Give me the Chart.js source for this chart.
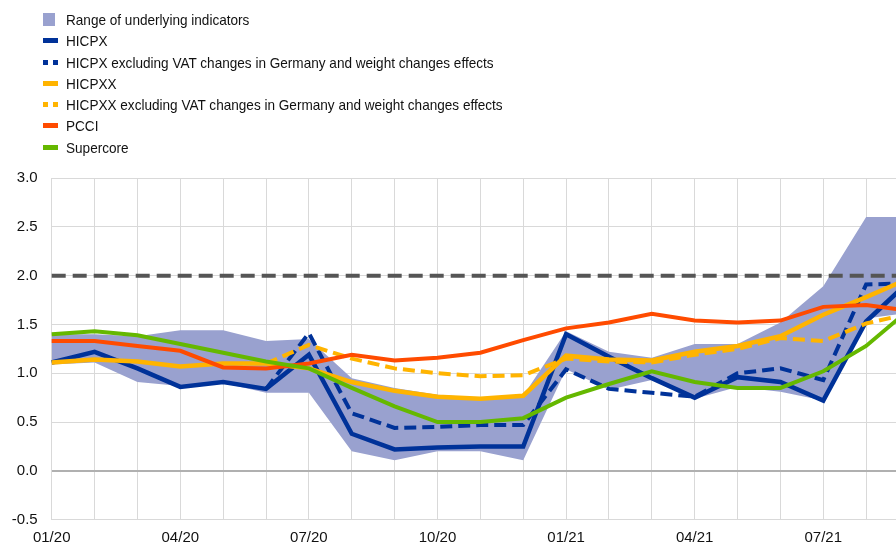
<!DOCTYPE html>
<html>
<head>
<meta charset="utf-8">
<script src="https://cdn.jsdelivr.net/npm/chart.js@4.4.1/dist/chart.umd.min.js"></script>
<style>
  html, body { margin: 0; padding: 0; overflow: hidden; background: #fff; }
  body { width: 896px; height: 546px; position: relative; font-family: "Liberation Sans", Arial, sans-serif; }
  #wrap { position: absolute; left: 0; top: 0; width: 918px; height: 546px; }
  #legend { position: absolute; left: 43px; top: 9px; z-index: 2; color: #111; font-size: 15px; }
  .row { height: 21.3px; line-height: 21.3px; position: relative; padding-left: 23px; white-space: nowrap; }
  .row .txt { display: inline-block; transform: scaleX(0.905); transform-origin: left center; }
  .mk { position: absolute; left: 0; }
</style>
</head>
<body>
<div id="legend"></div>
<div id="wrap"><canvas id="myChart" width="918" height="546"></canvas></div>
<script>
const months = ['01/20','02/20','03/20','04/20','05/20','06/20','07/20','08/20','09/20','10/20','11/20','12/20',
                '01/21','02/21','03/21','04/21','05/21','06/21','07/21','08/21','09/21'];

const rangeLow  = [1.09,1.11,0.91,0.87,0.90,0.80,0.80,0.20,0.11,0.20,0.20,0.11,1.04,0.83,0.93,0.74,0.86,0.81,0.72,1.56,1.62];
const rangeHigh = [1.40,1.40,1.38,1.44,1.44,1.33,1.35,0.95,0.85,0.78,0.75,0.77,1.43,1.22,1.16,1.30,1.30,1.52,1.89,2.60,2.60];

const hicpx       = [1.11,1.22,1.05,0.86,0.91,0.84,1.19,0.38,0.22,0.24,0.25,0.25,1.40,1.17,0.95,0.75,0.96,0.91,0.72,1.53,1.94];
const hicpxExVat  = [null,null,null,null,null,0.84,1.41,0.59,0.44,0.45,0.47,0.47,1.04,0.84,0.80,0.76,1.00,1.05,0.93,1.91,1.92];
const hicpxx      = [1.11,1.14,1.12,1.07,1.10,1.10,1.05,0.91,0.82,0.76,0.74,0.77,1.18,1.14,1.13,1.22,1.28,1.38,1.60,1.78,1.97];
const hicpxxExVat = [null,null,null,null,null,1.10,1.29,1.15,1.05,1.00,0.97,0.98,1.15,1.12,1.11,1.19,1.25,1.36,1.33,1.51,1.61];
const pcci        = [1.33,1.33,1.28,1.23,1.06,1.05,1.10,1.19,1.13,1.16,1.21,1.34,1.46,1.52,1.61,1.54,1.52,1.54,1.68,1.70,1.64];
const supercore   = [1.40,1.43,1.39,1.30,1.21,1.12,1.05,0.85,0.66,0.50,0.50,0.54,0.75,0.89,1.02,0.91,0.85,0.85,1.02,1.28,1.65];
const target = 2.0;

const yTicks = [-0.5, 0, 0.5, 1, 1.5, 2, 2.5, 3];

const blue = '#003299', yellow = '#ffb400', red = '#ff4b00', green = '#65b800', band = '#99a1cf';

// legend entries (html, drawn beside the canvas)
const legendItems = [
  { text: 'Range of underlying indicators', kind: 'box', color: band },
  { text: 'HICPX', kind: 'line', color: blue },
  { text: 'HICPX excluding VAT changes in Germany and weight changes effects', kind: 'dash', color: blue },
  { text: 'HICPXX', kind: 'line', color: yellow },
  { text: 'HICPXX excluding VAT changes in Germany and weight changes effects', kind: 'dash', color: yellow },
  { text: 'PCCI', kind: 'line', color: red },
  { text: 'Supercore', kind: 'line', color: green }
];
const legend = document.getElementById('legend');
legendItems.forEach(item => {
  const row = document.createElement('div');
  row.className = 'row';
  let mk = '';
  if (item.kind === 'box') {
    mk = `<span class="mk" style="top:4px;width:12px;height:13px;background:${item.color}"></span>`;
  } else if (item.kind === 'line') {
    mk = `<span class="mk" style="top:8px;width:15px;height:5px;background:${item.color}"></span>`;
  } else {
    mk = `<span class="mk" style="top:8px;width:5px;height:5px;background:${item.color}"></span>` +
         `<span class="mk" style="top:8px;left:10px;width:5px;height:5px;background:${item.color}"></span>`;
  }
  row.innerHTML = mk + `<span class="txt">${item.text}</span>`;
  legend.appendChild(row);
});

const ctx = document.getElementById('myChart');
new Chart(ctx, {
  type: 'line',
  data: {
    labels: months,
    datasets: [
      { label: 'Supercore', data: supercore, borderColor: green, borderWidth: 4, order: 1 },
      { label: 'PCCI', data: pcci, borderColor: red, borderWidth: 4, order: 2 },
      { label: 'HICPXX excl. VAT', data: hicpxxExVat, borderColor: yellow, borderWidth: 4, borderDash: [12, 6], order: 3 },
      { label: 'HICPXX', data: hicpxx, borderColor: yellow, borderWidth: 4.5, order: 4 },
      { label: 'HICPX excl. VAT', data: hicpxExVat, borderColor: blue, borderWidth: 4, borderDash: [12, 6], order: 5 },
      { label: 'HICPX', data: hicpx, borderColor: blue, borderWidth: 4.5, order: 6 },
      { label: 'target', data: months.map(() => target), borderColor: '#555555', borderWidth: 4, borderDash: [14, 7], order: 7 },
      { label: 'low', data: rangeLow, borderWidth: 0, borderColor: 'rgba(0,0,0,0)', fill: false, order: 9 },
      { label: 'Range of underlying indicators', data: rangeHigh, borderWidth: 0, borderColor: 'rgba(0,0,0,0)',
        backgroundColor: band, fill: '-1', order: 8 }
    ]
  },
  options: {
    responsive: false,
    animation: false,
    events: [],
    layout: { padding: { top: 178, right: 1, left: 0, bottom: 0 } },
    elements: {
      point: { radius: 0 },
      line: { tension: 0, borderCapStyle: 'butt', borderJoinStyle: 'miter' }
    },
    plugins: {
      legend: { display: false },
      tooltip: { enabled: false }
    },
    scales: {
      x: {
        offset: false,
        border: { display: false },
        grid: { color: '#d9d9d9', lineWidth: 1, drawTicks: false },
        ticks: {
          autoSkip: false, maxRotation: 0, padding: 9,
          color: '#111', font: { family: 'Liberation Sans', size: 15 },
          callback: (v, i) => (i % 3 === 0 ? months[i] : '')
        },
        afterFit: s => { s.height = 26.3; }
      },
      y: {
        min: -0.5, max: 3,
        border: { display: false },
        afterBuildTicks: s => { s.ticks = yTicks.map(v => ({ value: v })); },
        afterFit: s => { s.width = 51.7; },
        grid: {
          drawTicks: false,
          color: c => (c.tick && c.tick.value === 0 ? '#b0b0b0' : '#d9d9d9'),
          lineWidth: c => (c.tick && c.tick.value === 0 ? 2 : 1)
        },
        ticks: {
          padding: 14,
          color: '#111', font: { family: 'Liberation Sans', size: 15 },
          callback: v => v.toFixed(1)
        }
      }
    }
  }
});
</script>
</body>
</html>
